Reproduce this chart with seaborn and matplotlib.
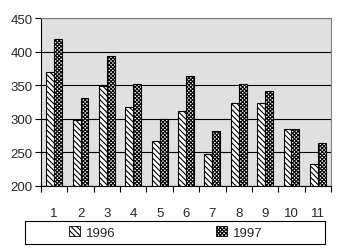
import numpy as np
import pandas as pd
import seaborn as sns
import matplotlib.pyplot as plt
from matplotlib.patches import Patch, Rectangle

# Data
periods = [str(i) for i in range(1, 12)]
values_1996 = [370, 298, 348, 318, 267, 312, 248, 323, 323, 285, 232]
values_1997 = [418, 330, 393, 351, 300, 364, 282, 351, 341, 285, 263]
years = ["1996", "1997"]
hatches = {"1996": "\\\\\\\\\\\\", "1997": "xxxxxxxxx"}

df = pd.DataFrame({
    "period": periods * 2,
    "value": values_1996 + values_1997,
    "year": ["1996"] * len(periods) + ["1997"] * len(periods),
})

sns.set_style("white")
plt.rcParams["font.family"] = ["Liberation Sans", "DejaVu Sans"]
plt.rcParams["font.size"] = 9.5
plt.rcParams["hatch.linewidth"] = 0.8

fig = plt.figure(figsize=(3.37, 2.51), dpi=100)
ax = fig.add_axes([41 / 337, 1 - 186.7 / 251, 290 / 337, 167.7 / 251])
ax.set_facecolor("#E0E0E0")

sns.barplot(data=df, x="period", y="value", hue="year", palette=["white", "white"],
            saturation=1, edgecolor="black", linewidth=0.8, width=0.6,
            legend=False, ax=ax)

for cont, yr in zip(ax.containers, years):
    for bar in cont:
        bar.set_hatch(hatches[yr])

ax.set_ylim(200, 450)
ax.set_yticks(range(200, 451, 50))
ax.set_xlim(-0.5, len(periods) - 0.5)
ax.set_xticks(np.arange(-0.5, len(periods), 1), minor=True)
ax.yaxis.grid(True, color="black", linewidth=0.8)
ax.set_axisbelow(True)

ax.tick_params(axis="x", which="major", length=0, pad=15)
ax.tick_params(axis="x", which="minor", bottom=True, length=4, width=0.8, color="black")
ax.tick_params(axis="y", left=True, length=4, width=0.8, pad=2, color="black")
ax.set_xlabel("")
ax.set_ylabel("")

for side in ["left", "bottom"]:
    ax.spines[side].set_color("black")
    ax.spines[side].set_linewidth(0.8)
for side in ["top", "right"]:
    ax.spines[side].set_color("#808080")
    ax.spines[side].set_linewidth(0.8)

# Legend box at the bottom
handles = [Patch(facecolor="white", edgecolor="black", hatch=hatches[y], linewidth=0.6) for y in years]
fig.legend(handles, years, loc="center left", bbox_to_anchor=(69 / 337, 1 - 233.5 / 251),
           ncol=2, frameon=False, handlelength=0.8, handleheight=0.75,
           handletextpad=0.5, columnspacing=7.6, borderpad=0, borderaxespad=0)
fig.add_artist(Rectangle((25 / 337, 1 - 245 / 251), 300 / 337, 23 / 251,
                         transform=fig.transFigure, fill=False,
                         edgecolor="black", linewidth=0.8))

fig.savefig("out.png", dpi=100)
